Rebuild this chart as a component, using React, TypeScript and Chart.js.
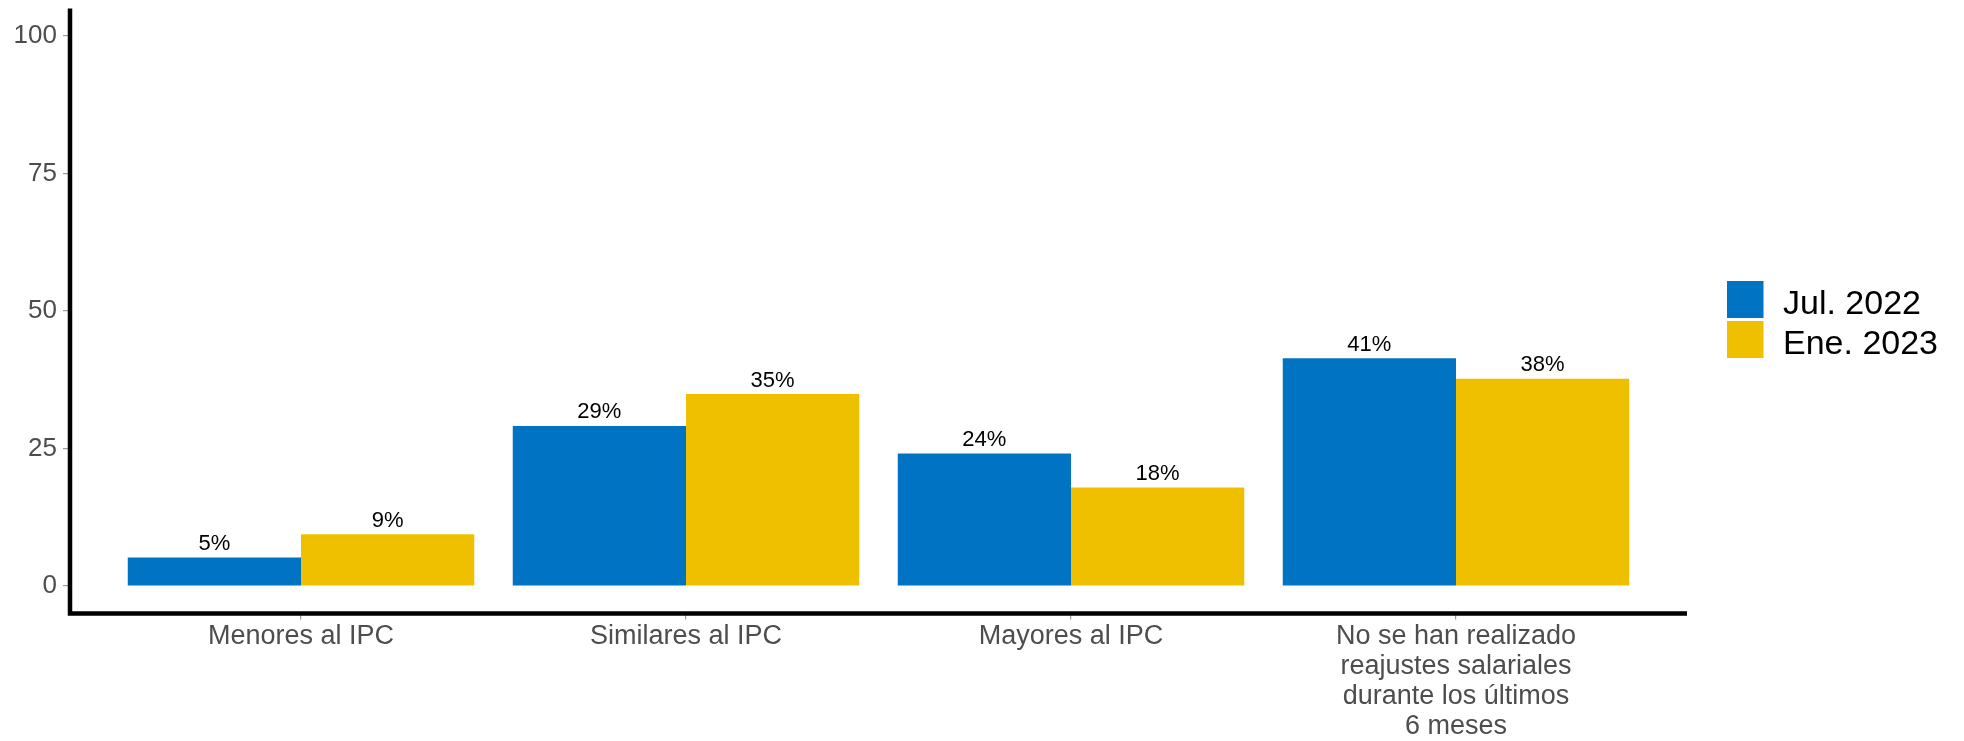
import React, { useEffect, useRef } from "react";
import { Chart, registerables } from "chart.js";

Chart.register(...registerables);

const CATEGORIES: string[][] = [
  ["Menores al IPC"],
  ["Similares al IPC"],
  ["Mayores al IPC"],
  ["No se han realizado", "reajustes salariales", "durante los últimos", "6 meses"],
];
const SERIES_NAMES = ["Jul. 2022", "Ene. 2023"];
const JUL_2022 = [5.2, 29.1, 24.1, 41.4];
const ENE_2023 = [9.4, 34.9, 17.9, 37.7];
const Y_TICKS = [0, 25, 50, 75, 100];
const COLORS = ["#0073C2", "#EFC000"];

const FONT = "'Liberation Sans', Arial, Helvetica, sans-serif";

const axisLinesPlugin = {
  id: "axisLines",
  afterDraw(chart: any) {
    const { ctx, chartArea } = chart;
    const w = 4.5;
    ctx.save();
    ctx.strokeStyle = "#000000";
    ctx.lineWidth = w;
    ctx.lineCap = "butt";
    ctx.beginPath();
    ctx.moveTo(chartArea.left, chartArea.top);
    ctx.lineTo(chartArea.left, chartArea.bottom + w / 2);
    ctx.moveTo(chartArea.left - w / 2, chartArea.bottom);
    ctx.lineTo(chartArea.right, chartArea.bottom);
    ctx.stroke();
    ctx.restore();
  },
};

const valueLabelsPlugin = {
  id: "valueLabels",
  afterDatasetsDraw(chart: any) {
    const { ctx } = chart;
    ctx.save();
    ctx.fillStyle = "#000000";
    ctx.font = `22px ${FONT}`;
    ctx.textAlign = "center";
    ctx.textBaseline = "alphabetic";
    chart.data.datasets.forEach((ds: any, di: number) => {
      const meta = chart.getDatasetMeta(di);
      meta.data.forEach((bar: any, i: number) => {
        const v = ds.data[i].y;
        ctx.fillText(`${Math.round(v)}%`, bar.x, bar.y - 7.5);
      });
    });
    ctx.restore();
  },
};

const legendPlugin = {
  id: "customLegend",
  afterDraw(chart: any) {
    const { ctx } = chart;
    const boxX = 1727;
    const boxW = 36.5;
    const boxH = 37;
    const startY = 281;
    const gap = 3;
    ctx.save();
    ctx.font = `34px ${FONT}`;
    ctx.textAlign = "left";
    ctx.textBaseline = "alphabetic";
    chart.data.datasets.forEach((ds: any, i: number) => {
      const y = startY + i * (boxH + gap);
      ctx.fillStyle = ds.backgroundColor;
      ctx.fillRect(boxX, y, boxW, boxH);
      ctx.fillStyle = "#000000";
      ctx.fillText(ds.label, 1783, y + 32.5);
    });
    ctx.restore();
  },
};

export default function App() {
  const ref = useRef<HTMLCanvasElement | null>(null);

  useEffect(() => {
    if (!ref.current) return;
    const chart = new Chart(ref.current, {
      type: "bar",
      data: {
        datasets: [
          {
            label: SERIES_NAMES[0],
            data: JUL_2022.map((v, i) => ({ x: i + 1, y: v })),
            backgroundColor: COLORS[0],
            borderWidth: 0,
          },
          {
            label: SERIES_NAMES[1],
            data: ENE_2023.map((v, i) => ({ x: i + 1, y: v })),
            backgroundColor: COLORS[1],
            borderWidth: 0,
          },
        ],
      },
      options: {
        animation: false,
        responsive: false,
        maintainAspectRatio: false,
        layout: { padding: { left: 0, top: 8.5, right: 277, bottom: 0 } },
        datasets: { bar: { categoryPercentage: 0.9, barPercentage: 1.0 } },
        plugins: {
          legend: { display: false },
          tooltip: { enabled: false },
        },
        scales: {
          x: {
            type: "linear",
            min: 0.4,
            max: 4.6,
            offset: false,
            grid: {
              offset: false,
              drawOnChartArea: false,
              drawTicks: true,
              tickLength: 6,
              color: "#9a9a9a",
              lineWidth: 1.2,
            },
            border: { display: false },
            afterBuildTicks(scale: any) {
              scale.ticks = CATEGORIES.map((_, i) => ({ value: i + 1 }));
            },
            afterFit(scale: any) {
              scale.height = 127.5;
              scale.paddingLeft = 0;
              scale.paddingRight = 0;
            },
            ticks: {
              autoSkip: false,
              maxRotation: 0,
              minRotation: 0,
              padding: 2,
              color: "#4D4D4D",
              font: { family: FONT, size: 27, lineHeight: 1.107 },
              callback: (v: any) => CATEGORIES[Math.round(Number(v)) - 1] ?? "",
            },
          },
          y: {
            type: "linear",
            min: -5,
            max: 105,
            grid: {
              drawOnChartArea: false,
              drawTicks: true,
              tickLength: 7,
              color: "#9a9a9a",
              lineWidth: 1.2,
            },
            border: { display: false },
            afterBuildTicks(scale: any) {
              scale.ticks = Y_TICKS.map((v) => ({ value: v }));
            },
            afterFit(scale: any) {
              scale.width = 70;
              scale.paddingTop = 0;
              scale.paddingBottom = 0;
            },
            ticks: {
              padding: 6,
              color: "#4D4D4D",
              font: { family: FONT, size: 26 },
              callback: (v: any) => String(v),
            },
          },
        },
      },
      plugins: [valueLabelsPlugin, axisLinesPlugin, legendPlugin],
    });
    return () => chart.destroy();
  }, []);

  return (
    <div style={{ position: "fixed", left: 0, top: 0, width: 1964, height: 741, background: "#ffffff" }}>
      <canvas ref={ref} width={1964} height={741} style={{ display: "block" }} />
    </div>
  );
}
